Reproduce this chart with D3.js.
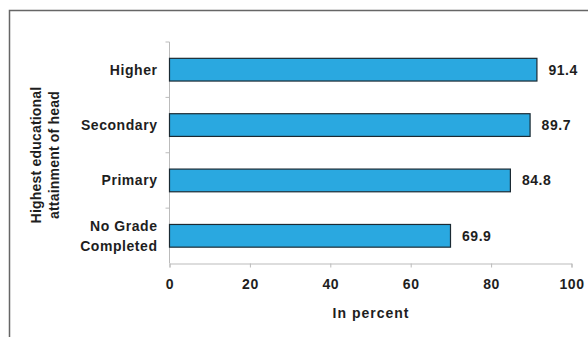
<!DOCTYPE html>
<html>
<head>
<meta charset="utf-8">
<script src="https://cdn.jsdelivr.net/npm/d3@7"></script>
<style>
  html, body { margin: 0; padding: 0; background: #fff; }
  svg { display: block; }
  text { font-family: Arial, "Liberation Sans", sans-serif; font-weight: bold; fill: #1e1e1e; letter-spacing: 0.55px; }
</style>
</head>
<body>
<svg id="chart" width="588" height="337"></svg>
<script>
// Share of households, by highest educational attainment of head (percent)
const categories = ["Higher", "Secondary", "Primary", "No Grade Completed"];
const values = [91.4, 89.7, 84.8, 69.9];
const xTicks = [0, 20, 40, 60, 80, 100];

const FONT = 14;
const svg = d3.select("#chart");

// outer frame, open on the right and bottom
svg.append("rect")
  .attr("x", 9.5).attr("y", 10.5)
  .attr("width", 600).attr("height", 400)
  .attr("fill", "none")
  .attr("stroke", "#666")
  .attr("stroke-width", 1.5);

const plotLeft = 169.5, plotRight = 571.5, plotTop = 42, plotBottom = 263.5;

const x = d3.scaleLinear().domain([0, 100]).range([plotLeft, plotRight]);
const y = d3.scaleBand().domain(categories).range([plotTop, plotBottom]).paddingInner(0.59).paddingOuter(0.295);
const yOuter = d3.scaleBand().domain(categories).range([plotTop, plotBottom]);

// x axis
const xAxis = svg.append("g")
  .attr("transform", `translate(0,${plotBottom})`)
  .call(d3.axisBottom(x).tickValues(xTicks).tickSize(4).tickPadding(12));
xAxis.select(".domain").attr("stroke", "#bbb");
xAxis.selectAll(".tick line").attr("stroke", "#bbb");
xAxis.selectAll(".tick text")
  .attr("font-size", FONT)
  .attr("font-family", "Arial, 'Liberation Sans', sans-serif")
  .attr("fill", "#1e1e1e");

// y axis line with ticks at band boundaries
svg.append("line")
  .attr("x1", plotLeft).attr("x2", plotLeft)
  .attr("y1", plotTop).attr("y2", plotBottom)
  .attr("stroke", "#bbb");
svg.selectAll(".ytick")
  .data(categories)
  .join("line")
  .attr("x1", plotLeft - 4).attr("x2", plotLeft)
  .attr("y1", d => yOuter(d)).attr("y2", d => yOuter(d))
  .attr("stroke", "#bbb");

// bars
svg.selectAll(".bar")
  .data(values)
  .join("rect")
  .attr("x", x(0))
  .attr("y", (d, i) => y(categories[i]))
  .attr("width", d => x(d) - x(0))
  .attr("height", y.bandwidth())
  .attr("fill", "#2aa8e0")
  .attr("stroke", "#1b2a33")
  .attr("stroke-width", 1.2);

// value labels
svg.selectAll(".val")
  .data(values)
  .join("text")
  .attr("x", d => x(d) + 11.5)
  .attr("y", (d, i) => y(categories[i]) + y.bandwidth() / 2)
  .attr("dy", "0.35em")
  .attr("font-size", FONT)
  .text(d => d.toFixed(1));

// category labels (wrapped onto two lines where needed)
const catLines = { "No Grade Completed": ["No Grade", "Completed"] };
categories.forEach(c => {
  const lines = catLines[c] || [c];
  const cy = yOuter(c) + yOuter.bandwidth() / 2;
  const lh = 20;
  const t = svg.append("text")
    .attr("text-anchor", "end")
    .attr("font-size", FONT);
  lines.forEach((ln, k) => {
    t.append("tspan")
      .attr("x", 157.5)
      .attr("y", cy + (k - (lines.length - 1) / 2) * lh)
      .attr("dy", "0.35em")
      .text(ln);
  });
});

// y axis title
const yTitle = svg.append("text")
  .attr("transform", "translate(40.5,155) rotate(-90)")
  .attr("text-anchor", "middle")
  .attr("font-size", FONT)
  .style("letter-spacing", "0.2px");
yTitle.append("tspan").attr("x", 0).attr("y", 0).text("Highest educational");
yTitle.append("tspan").attr("x", 0).attr("y", 18).text("attainment of head");

// x axis title
svg.append("text")
  .attr("x", 371)
  .attr("y", 318)
  .attr("text-anchor", "middle")
  .attr("font-size", FONT)
  .style("letter-spacing", "1px")
  .text("In percent");
</script>
</body>
</html>
